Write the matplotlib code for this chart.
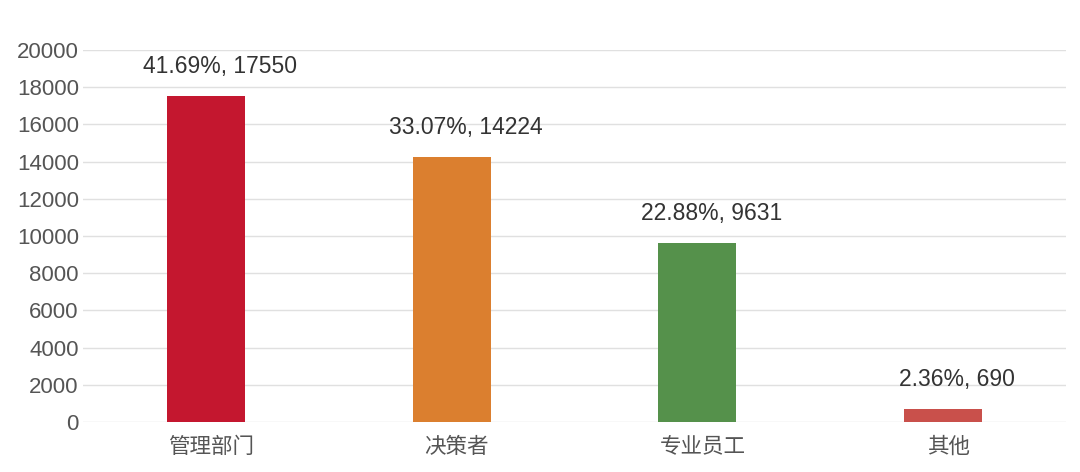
import matplotlib
matplotlib.use('Agg')
import matplotlib.pyplot as plt
import matplotlib.transforms as mtransforms

plt.rcParams['font.family'] = ['Noto Sans CJK SC', 'DejaVu Sans']

# data
categories = ['管理部门', '决策者', '专业员工', '其他']
counts = [17550, 14224, 9631, 690]
shares = ['41.69%', '33.07%', '22.88%', '2.36%']
colors = ['#C4172F', '#DB7F2F', '#55914B', '#C9504B']
yticks = list(range(0, 20001, 2000))

num_font = ['Liberation Sans', 'DejaVu Sans']

fig = plt.figure(figsize=(10.8, 4.72), dpi=100)
ax = fig.add_axes([83 / 1080, 50 / 472, 983 / 1080, 372 / 472])

x = list(range(len(categories)))
ax.bar(x, counts, width=0.317, color=colors, zorder=3)

ax.set_xlim(-0.5, len(categories) - 0.5)
ax.set_ylim(0, 20000)
ax.set_yticks(yticks)
ax.set_yticklabels([str(v) for v in yticks], fontsize=16, color='#555555',
                   family=num_font)
ax.grid(axis='y', color='#E0E0E0', linewidth=1, zorder=0)
ax.tick_params(axis='y', length=0, pad=3)
ax.tick_params(axis='x', length=0, pad=10)
ax.set_xticks(x)
ax.set_xticklabels(categories, fontsize=15.5, color='#555555')
for lbl in ax.get_xticklabels():
	lbl.set_transform(lbl.get_transform() + mtransforms.ScaledTranslation(5 / 100, 0, fig.dpi_scale_trans))
for s in ax.spines.values():
	s.set_visible(False)

for i, (c, s) in enumerate(zip(counts, shares)):
	ax.annotate(f'{s}, {c}', (i, c), xytext=(10, 13), textcoords='offset points',
				ha='center', va='bottom', fontsize=16.5, color='#333333',
				family=num_font)

fig.savefig('out.png', dpi=100, facecolor='white')
